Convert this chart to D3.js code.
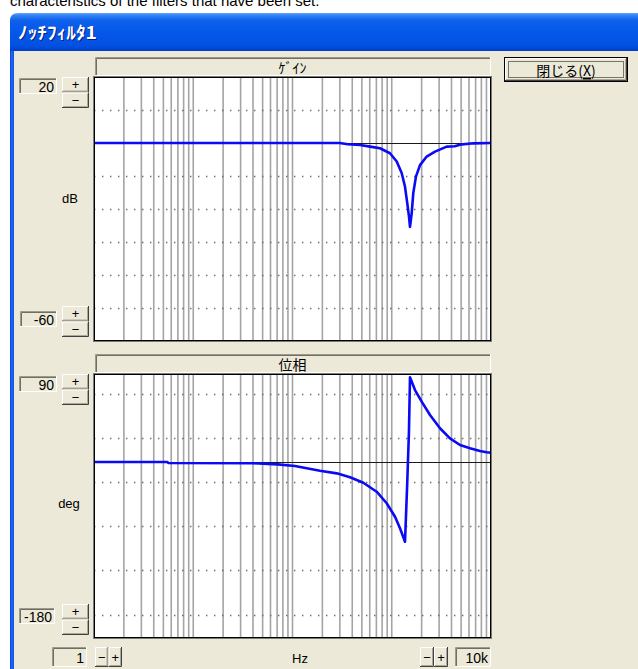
<!DOCTYPE html>
<html><head><meta charset="utf-8">
<script src="https://cdn.jsdelivr.net/npm/d3@7"></script>
<style>html,body{margin:0;padding:0;background:#fff;overflow:hidden}</style>
</head><body><svg id="c" width="638" height="669"></svg>
<script>
// ---------- data ----------
const freqRange = [1, 10000];
const gainRange = [20, -60];
const phaseRange = [90, -180];
const gainDotLevels = [10, -10, -20, -30, -40, -50];
const phaseDotLevels = [69.5, 24.5, -20.5, -65, -110, -156];
const gainFreq = [1, 300, 360, 480, 604, 762, 960, 1122, 1259, 1359, 1434, 1492, 1527, 1588, 1648, 1753, 1926, 2249, 2728, 3578, 4300, 4872, 6637, 10000];
const gainDb   = [0, 0, -0.4, -0.6, -1.1, -1.6, -3.1, -5.6, -9.1, -13.2, -18.3, -22.3, -25.4, -21.3, -15.2, -10.2, -6.7, -4.1, -2.6, -1.1, -1.0, -0.5, -0.1, 0];
const phaseFreq = [1, 5.5, 5.6, 40, 71, 106, 139, 189, 279, 380, 517, 705, 889, 1079, 1211, 1360, 1430, 1490, 1527, 1715, 2003, 2429, 3062, 3860, 4872, 6141, 7742, 9052, 10000];
const phaseDeg  = [0, 0, -1, -1.3, -2.4, -4.1, -6.4, -8.9, -11.6, -15.6, -21.2, -30.4, -42.2, -56, -67.8, -81.5, -23.5, 30.7, 86.6, 73.6, 61.7, 48.1, 34.5, 24.2, 17.4, 14, 11.2, 9.9, 9.4];
const gainLimitLabels = ["20", "-60"];
const phaseLimitLabels = ["90", "-180"];
const freqLimitLabels = ["1", "10k"];
const panelTitles = ["ｹﾞｲﾝ", "位相"];
const axisUnits = ["dB", "deg", "Hz"];
const windowTitle = "ﾉｯﾁﾌｨﾙﾀ1";
const closeLabel = "閉じる(";
const captionText = "characteristics of the filters that have been set.";

// ---------- layout ----------
const svg = d3.select("#c");
const BG = "#ECE9D8";
const UI = "'Liberation Sans', Arial, sans-serif";
const JP = "'Noto Sans CJK JP', sans-serif";
const PL = 94, PR = 491;
const gainBox = {top: 77, bottom: 341, head: 57};
const phaseBox = {top: 374, bottom: 638, head: 354};

const defs = svg.append("defs");
const tg = defs.append("linearGradient").attr("id", "tg").attr("x1", 0).attr("y1", 0).attr("x2", 0).attr("y2", 1);
[[0, "#5ea3ff"], [0.07, "#2f80f6"], [0.2, "#0d60ea"], [0.5, "#0558ea"], [0.85, "#0351e2"], [1, "#003fc8"]]
  .forEach(([o, c]) => tg.append("stop").attr("offset", o).attr("stop-color", c));
const fg = defs.append("linearGradient").attr("id", "fg").attr("x1", 0).attr("y1", 0).attr("x2", 1).attr("y2", 0);
[[0, "#0a3fd6"], [0.3, "#1d64f0"], [0.7, "#1a62ee"], [1, "#0c4fe0"]]
  .forEach(([o, c]) => fg.append("stop").attr("offset", o).attr("stop-color", c));

svg.append("rect").attr("width", 638).attr("height", 669).attr("fill", "#fff");
svg.append("text").attr("x", 10).attr("y", 6).attr("font-family", UI).attr("font-size", 15)
  .attr("fill", "#000").text(captionText);

// window
svg.append("path").attr("d", "M10,51 L10,21 Q10,13 18,13 L640,13 L640,51 Z").attr("fill", "url(#tg)");
svg.append("rect").attr("x", 10).attr("y", 51).attr("width", 4).attr("height", 620).attr("fill", "url(#fg)");
svg.append("rect").attr("x", 14).attr("y", 51).attr("width", 630).attr("height", 620).attr("fill", BG);
svg.append("text").attr("x", 19).attr("y", 39.5).attr("font-family", JP).attr("font-weight", "bold")
  .attr("font-size", 17).attr("textLength", 79).attr("lengthAdjust", "spacingAndGlyphs")
  .attr("fill", "#0a1e7a").text(windowTitle);
svg.append("text").attr("x", 18).attr("y", 38.5).attr("font-family", JP).attr("font-weight", "bold")
  .attr("font-size", 17).attr("textLength", 79).attr("lengthAdjust", "spacingAndGlyphs")
  .attr("fill", "#fff").text(windowTitle);

// helpers
function sunken(x, y, w, h) {
  const g = svg.append("g");
  g.append("rect").attr("x", x).attr("y", y).attr("width", w).attr("height", h).attr("fill", BG);
  g.append("path").attr("d", `M${x + 0.5},${y + h}V${y + 0.5}H${x + w}`).attr("stroke", "#9d9a8a").attr("fill", "none");
  g.append("path").attr("d", `M${x + 1.5},${y + h - 1}V${y + 1.5}H${x + w - 1}`).attr("stroke", "#716f64").attr("fill", "none");
  g.append("path").attr("d", `M${x},${y + h - 0.5}H${x + w - 0.5}V${y}`).attr("stroke", "#fff").attr("fill", "none");
  return g;
}
function raised(x, y, w, h) {
  const g = svg.append("g");
  g.append("rect").attr("x", x).attr("y", y).attr("width", w).attr("height", h).attr("fill", BG);
  g.append("path").attr("d", `M${x + 0.5},${y + h}V${y + 0.5}H${x + w}`).attr("stroke", "#fff").attr("fill", "none");
  g.append("path").attr("d", `M${x},${y + h - 0.5}H${x + w - 0.5}V${y}`).attr("stroke", "#404040").attr("fill", "none");
  g.append("path").attr("d", `M${x + 1},${y + h - 1.5}H${x + w - 1.5}V${y + 1}`).attr("stroke", "#aca899").attr("fill", "none");
  return g;
}
function symbolText(x, y, t, size) {
  svg.append("text").attr("x", x).attr("y", y).attr("text-anchor", "middle").attr("dominant-baseline", "central")
    .attr("font-family", UI).attr("font-size", size || 13).attr("fill", "#000").text(t);
}
function valueBox(x, y, w, h, t) {
  sunken(x, y, w, h);
  svg.append("text").attr("x", x + w - 3).attr("y", y + h / 2 + 0.5).attr("text-anchor", "end")
    .attr("dominant-baseline", "central").attr("font-family", UI).attr("font-size", 14).attr("fill", "#000").text(t);
}
function vSpinner(x, y, w, h) {
  raised(x, y, w, h / 2); raised(x, y + h / 2, w, h / 2);
  symbolText(x + w / 2, y + h / 4, "+", 13);
  symbolText(x + w / 2, y + 3 * h / 4, "−", 13);
}
function hSpinner(x, y, w, h) {
  raised(x, y, w / 2, h); raised(x + w / 2, y, w / 2, h);
  symbolText(x + w / 4, y + h / 2, "−", 13);
  symbolText(x + 3 * w / 4, y + h / 2, "+", 13);
}

// scales
const x = d3.scaleLog().domain(freqRange).range([PL, PR]);
const yG = d3.scaleLinear().domain(gainRange).range([gainBox.top, gainBox.bottom]);
const yP = d3.scaleLinear().domain(phaseRange).range([phaseBox.top, phaseBox.bottom]);

function panel(box, y, dots, title, fData, vData, id) {
  sunken(PL + 1, box.head, PR - PL - 1, box.top - box.head - 1);
  svg.append("text").attr("x", (PL + PR) / 2).attr("y", (box.head + box.top) / 2)
    .attr("text-anchor", "middle").attr("dominant-baseline", "central")
    .attr("font-family", JP).attr("font-size", 14).attr("fill", "#000").text(title);
  svg.append("rect").attr("x", PL).attr("y", box.top).attr("width", PR - PL).attr("height", box.bottom - box.top).attr("fill", "#fff");
  defs.append("clipPath").attr("id", id).append("rect").attr("x", PL).attr("y", box.top)
    .attr("width", PR - PL).attr("height", box.bottom - box.top);
  const g = svg.append("g").attr("clip-path", `url(#${id})`);
  const ticks = x.ticks().filter(f => f > freqRange[0] && f < freqRange[1]);
  g.selectAll("line.v").data(ticks).join("line")
    .attr("x1", d => x(d)).attr("x2", d => x(d)).attr("y1", box.top).attr("y2", box.bottom)
    .attr("stroke", "#a4a4a4").attr("stroke-width", 1.6);
  g.selectAll("line.d").data(dots).join("line")
    .attr("x1", PL).attr("x2", PR).attr("y1", d => Math.round(y(d)) + 0.5).attr("y2", d => Math.round(y(d)) + 0.5)
    .attr("stroke", "#6b6b6b").attr("stroke-width", 1.4).attr("stroke-dasharray", "1.4,6.6");
  g.append("line").attr("x1", PL).attr("x2", PR).attr("y1", Math.round(y(0)) + 0.5).attr("y2", Math.round(y(0)) + 0.5)
    .attr("stroke", "#1a1a1a").attr("stroke-width", 1);
  const pts = fData.map((f, i) => [f, vData[i]]);
  g.append("path").datum(pts)
    .attr("d", d3.line().x(d => x(d[0])).y(d => y(d[1])))
    .attr("fill", "none").attr("stroke", "#0a0af5").attr("stroke-width", 2.6)
    .attr("stroke-linejoin", "round");
  svg.append("rect").attr("x", PL - 0.5).attr("y", box.top - 0.5).attr("width", PR - PL + 1).attr("height", box.bottom - box.top + 1)
    .attr("fill", "none").attr("stroke", "#7a7a7a");
  svg.append("rect").attr("x", PL + 0.5).attr("y", box.top + 0.5).attr("width", PR - PL - 1).attr("height", box.bottom - box.top - 1)
    .attr("fill", "none").attr("stroke", "#000");
}
panel(gainBox, yG, gainDotLevels, panelTitles[0], gainFreq, gainDb, "cg");
panel(phaseBox, yP, phaseDotLevels, panelTitles[1], phaseFreq, phaseDeg, "cp");

// left controls
valueBox(19, 78, 38, 16, gainLimitLabels[0]);   vSpinner(62, 77, 27, 31);
valueBox(20, 311, 37, 16, gainLimitLabels[1]);  vSpinner(62, 306, 27, 31);
valueBox(19, 376, 38, 16, phaseLimitLabels[0]); vSpinner(62, 374, 27, 31);
valueBox(19, 608, 36, 16, phaseLimitLabels[1]); vSpinner(62, 604, 27, 31);
symbolText(70, 198, axisUnits[0], 13);
symbolText(69, 503, axisUnits[1], 13);

// bottom row
valueBox(52, 647, 35, 20, freqLimitLabels[0]); hSpinner(95, 647, 27, 20);
symbolText(300, 658, axisUnits[2], 13);
hSpinner(420, 647, 28, 20); valueBox(455, 647, 36, 20, freqLimitLabels[1]);

// close button
(function () {
  const bx = 504, by = 57, bw = 124, bh = 25;
  svg.append("rect").attr("x", bx + 0.5).attr("y", by + 0.5).attr("width", bw - 1).attr("height", bh - 1).attr("fill", BG).attr("stroke", "#000");
  svg.append("path").attr("d", `M${bx + 1.5},${by + bh - 1}V${by + 1.5}H${bx + bw - 1}`).attr("stroke", "#fff").attr("fill", "none");
  svg.append("path").attr("d", `M${bx + 1},${by + bh - 1.5}H${bx + bw - 1.5}V${by + 1}`).attr("stroke", "#404040").attr("fill", "none");
  svg.append("path").attr("d", `M${bx + 2},${by + bh - 2.5}H${bx + bw - 2.5}V${by + 2}`).attr("stroke", "#aca899").attr("fill", "none");
  svg.append("rect").attr("x", bx + 4.5).attr("y", by + 4.5).attr("width", bw - 9).attr("height", bh - 9)
    .attr("fill", "none").attr("stroke", "#000").attr("stroke-dasharray", "1,1");
  const t = svg.append("text").attr("x", bx + bw / 2).attr("y", by + bh / 2 + 0.5).attr("text-anchor", "middle")
    .attr("dominant-baseline", "central").attr("font-family", JP).attr("font-size", 14).attr("fill", "#000");
  t.append("tspan").text(closeLabel);
  t.append("tspan").attr("text-decoration", "underline").text("X");
  t.append("tspan").text(")");
})();
</script></body></html>
